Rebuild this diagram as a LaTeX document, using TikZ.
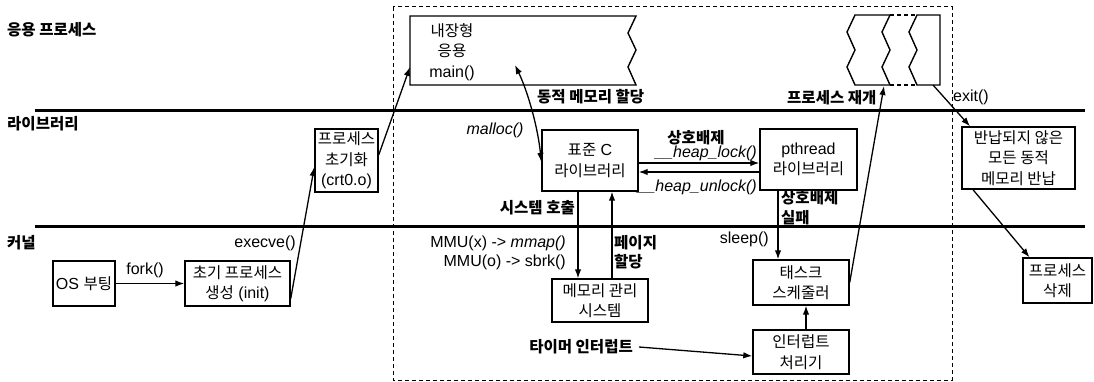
\documentclass[tikz,border=0pt]{standalone}
\usepackage{fontspec}
\setmainfont{Liberation Sans}
\newfontfamily\krf[Scale=0.97]{Noto Sans CJK KR}
\newcommand\kr[1]{{\krf #1}}
\newcommand\krb[1]{{\krf\bfseries #1}}
\usetikzlibrary{arrows.meta,calc}
\tikzset{
  box/.style={draw, line width=1.4pt, inner sep=0pt, align=center,
    font=\fontsize{16}{20.5}\selectfont},
  lbl/.style={inner sep=0pt, align=left, font=\fontsize{16}{19}\selectfont},
  conn/.style={line width=1.3pt, -{Latex[length=9pt,width=6.5pt]}},
  dconn/.style={line width=1.3pt, {Latex[length=9pt,width=6.5pt]}-{Latex[length=9pt,width=6.5pt]}},
  layer/.style={line width=3pt},
  frame/.style={line width=1pt, dash pattern=on 4pt off 3pt},
  wave/.style={line width=1.4pt, line join=miter}
}
\begin{document}
\begin{tikzpicture}[x=1pt,y=-1pt]
\useasboundingbox (0,0) rectangle (1094,382);

% dashed frame
\draw[frame] (393,7) rectangle (952,380);

% layer lines
\draw[layer] (35,111) -- (1085,111);
\draw[layer] (35,226) -- (1085,226);

% layer labels
\node[lbl, anchor=west] (lApp) at (7,30) {\krb{응용 프로세스}};
\node[lbl, anchor=west] (lLib) at (7,124) {\krb{라이브러리}};
\node[lbl, anchor=west] (lKer) at (7,243) {\krb{커널}};

% main application shape
\draw[wave] (636,16) -- (410,16) -- (410,85) -- (636,85)
  -- (628,67) -- (636,50) -- (628,33) -- cycle;
\node[box, draw=none] (app) at (452,52) {\kr{내장형}\\\kr{응용}\\main()};
\coordinate (appL) at (410,67);
\coordinate (appIn) at (515,65);

% stacked resumed process shape
\draw[wave] (890,15) -- (855,15) -- (847,32) -- (855,50) -- (847,67) -- (855,85) -- (890,85);
\draw[wave] (890,15) -- (882,32) -- (890,50) -- (882,67) -- (890,85);
\draw[wave] (917,15) -- (940,15) -- (940,85) -- (917,85) -- (909,67) -- (917,50) -- (909,32) -- cycle;
\draw[frame, line width=1.2pt] (890,15) -- (917,15);
\draw[frame, line width=1.2pt] (890,85) -- (917,85);
\coordinate (stackRes) at (884,86);
\coordinate (stackExit) at (933,85);

% boxes
\node[box, minimum width=62pt, minimum height=45pt] (boot) at (84,283.5) {OS \kr{부팅}};
\node[box, minimum width=105pt, minimum height=45pt] (init) at (237.5,283.5) {\kr{초기 프로세스}\\\kr{생성} (init)};
\node[box, minimum width=63pt, minimum height=63pt] (crt) at (346.5,160.5) {\kr{프로세스}\\\kr{초기화}\\(crt0.o)};
\node[box, minimum width=96pt, minimum height=61pt] (stdc) at (590,160.5) {\kr{표준} C\\\kr{라이브러리}};
\node[box, minimum width=97pt, minimum height=61pt] (pth) at (808.5,159.5) {pthread\\\kr{라이브러리}};
\node[box, minimum width=113pt, minimum height=62pt] (ret) at (1018.5,158) {\kr{반납되지 않은}\\\kr{모든 동적}\\\kr{메모리 반납}};
\node[box, minimum width=96pt, minimum height=43pt] (mm) at (600,300.5) {\kr{메모리 관리}\\\kr{시스템}};
\node[box, minimum width=96pt, minimum height=45pt] (sched) at (801,282.5) {\kr{태스크}\\\kr{스케줄러}};
\node[box, minimum width=96pt, minimum height=44pt] (intr) at (801,352) {\kr{인터럽트}\\\kr{처리기}};
\node[box, minimum width=69pt, minimum height=45pt] (del) at (1057.5,280.5) {\kr{프로세스}\\\kr{삭제}};

% connectors
\draw[conn] (boot.east) -- (init.west);
\node[lbl] (lfork) at (145,270) {fork()};

\draw[conn] ([yshift=8pt]init.south east) -- ([yshift=-6.5pt]crt.west);
\node[lbl, anchor=east] (lexec) at (296,243) {execve()};

\draw[conn] ([yshift=5.5pt]crt.east) -- (appL);

\draw[dconn] (appIn) .. controls (528,92) and (538,128) .. ([yshift=-1.5pt]stdc.west);
\node[lbl] (lmalloc) at (495,130) {\itshape malloc()};
\node[lbl, anchor=west] (ldyn) at (537,97) {\krb{동적 메모리 할당}};

\draw[conn] ([yshift=-2.5pt]stdc.east) -- ([yshift=-3.5pt]pth.west);
\draw[conn] ([yshift=-12.5pt]pth.west) -- ([yshift=-11.5pt]stdc.east);
\node[lbl] (lmutex) at (696,138) {\krb{상호배제}};
\node[lbl, anchor=east] (llock) at (757,153) {\itshape \_\_heap\_lock()};
\node[lbl, anchor=east] (lunlock) at (757,187) {\itshape \_\_heap\_unlock()};

\draw[conn] ([xshift=-12pt]stdc.south) -- ([xshift=-12pt]stdc.south |- mm.north);
\node[lbl, anchor=east] (lsys) at (575,208) {\krb{시스템 호출}};
\node[lbl, anchor=east] (lmmap) at (566,243) {MMU(x) -> \textit{mmap()}};
\node[lbl, anchor=east] (lsbrk) at (566,262) {MMU(o) -> sbrk()};

\draw[conn] ([xshift=12pt]mm.north) -- ([xshift=12pt]mm.north |- stdc.south);
\node[lbl, anchor=west] (lpage) at (614,243) {\krb{페이지}};
\node[lbl, anchor=west] (lalloc) at (614,262) {\krb{할당}};

\draw[conn] ([xshift=-30.5pt]pth.south) -- ([xshift=-30.5pt]pth.south |- sched.north);
\node[lbl, anchor=west] (lfail1) at (781,198) {\krb{상호배제}};
\node[lbl, anchor=west] (lfail2) at (781,218) {\krb{실패}};
\node[lbl, anchor=east] (lsleep) at (769,239) {sleep()};

\draw[conn] (sched.east) -- (stackRes);
\node[lbl, anchor=west] (lresume) at (787,98) {\krb{프로세스 재개}};

\draw[conn] ([xshift=5pt]intr.north) -- ([xshift=5pt]sched.south);

\node[lbl, anchor=east] (ltimer) at (633,347) {\krb{타이머 인터럽트}};
\draw[conn] ([xshift=6pt]ltimer.east) -- ([yshift=-4pt]intr.west);

\draw[conn] (stackExit) -- ([xshift=-48.5pt]ret.north);
\node[lbl, anchor=west] (lexit) at (953,97) {exit()};

\draw[conn] ([xshift=-45.5pt]ret.south) -- ([xshift=-28pt]del.north);
\end{tikzpicture}
\end{document}
